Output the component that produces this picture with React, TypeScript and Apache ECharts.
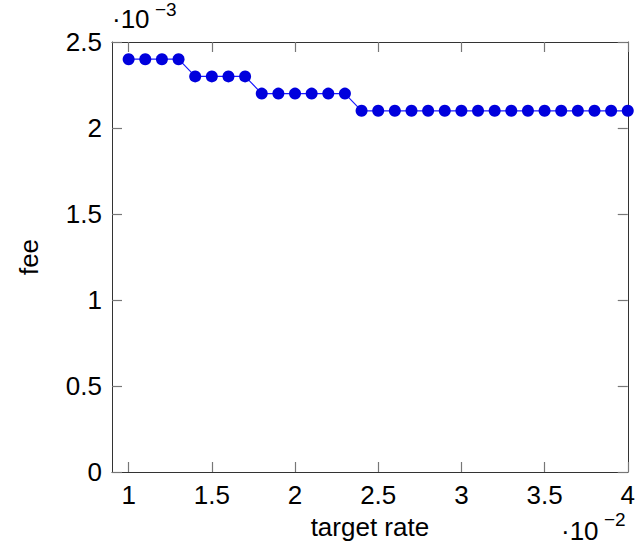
import React, { useEffect, useRef } from "react";
import * as echarts from "echarts";

// target rate, in units of 10^-2
const targetRate = [
  1.0, 1.1, 1.2, 1.3, 1.4, 1.5, 1.6, 1.7, 1.8, 1.9, 2.0, 2.1, 2.2, 2.3, 2.4, 2.5,
  2.6, 2.7, 2.8, 2.9, 3.0, 3.1, 3.2, 3.3, 3.4, 3.5, 3.6, 3.7, 3.8, 3.9, 4.0,
];
// fee, in units of 10^-3
const fee = [
  2.4, 2.4, 2.4, 2.4, 2.3, 2.3, 2.3, 2.3, 2.2, 2.2, 2.2, 2.2, 2.2, 2.2, 2.1, 2.1,
  2.1, 2.1, 2.1, 2.1, 2.1, 2.1, 2.1, 2.1, 2.1, 2.1, 2.1, 2.1, 2.1, 2.1, 2.1,
];
const xTicks = [1, 1.5, 2, 2.5, 3, 3.5, 4];
const yTicks = [0, 0.5, 1, 1.5, 2, 2.5];

const FONT = "Liberation Sans";

export default function App() {
  const ref = useRef<HTMLDivElement>(null);
  useEffect(() => {
    document.body.style.margin = "0";
    if (!ref.current) return;
    const chart = echarts.init(ref.current, null, { renderer: "svg" });
    const axisLine = { show: true, onZero: false, lineStyle: { color: "#333", width: 1 } };
    const tick = { show: true, inside: true, length: 10, lineStyle: { color: "#777", width: 1.2 } };
    const labelStyle = { color: "#000", fontFamily: FONT, fontSize: 26 };
    const hiddenLabel = { show: true, inside: true, color: "rgba(0,0,0,0)" };
    const points = targetRate.map((x, i) => [x, fee[i]]);
    chart.setOption({
      animation: false,
      grid: { left: 112, right: 8, top: 42, bottom: 74, containLabel: false },
      xAxis: [
        {
          type: "value",
          position: "bottom",
          min: 0.9,
          max: 4,
          axisLine,
          axisTick: { ...tick, customValues: xTicks },
          axisLabel: { ...labelStyle, margin: 10, customValues: xTicks, showMaxLabel: true, formatter: (v: number) => String(v) },
          splitLine: { show: false },
          name: "target rate",
          nameLocation: "middle",
          nameGap: 42,
          nameTextStyle: { ...labelStyle, fontSize: 26 },
        },
        {
          type: "value",
          position: "top",
          min: 0.9,
          max: 4,
          axisLine,
          axisTick: { ...tick, customValues: xTicks },
          axisLabel: { ...hiddenLabel, customValues: xTicks },
          splitLine: { show: false },
        },
      ],
      yAxis: [
        {
          type: "value",
          position: "left",
          min: 0,
          max: 2.5,
          interval: 0.5,
          axisLine,
          axisTick: { ...tick },
          axisLabel: { ...labelStyle, margin: 10 },
          splitLine: { show: false },
          name: "fee",
          nameLocation: "middle",
          nameGap: 70,
          nameTextStyle: { ...labelStyle, fontSize: 26 },
        },
        {
          type: "value",
          position: "right",
          min: 0,
          max: 2.5,
          interval: 0.5,
          axisLine,
          axisTick: { ...tick },
          axisLabel: { ...hiddenLabel },
          splitLine: { show: false },
        },
      ],
      series: [
        {
          type: "line",
          xAxisIndex: 1,
          yAxisIndex: 1,
          data: points,
          symbol: "none",
          lineStyle: { opacity: 0 },
          silent: true,
          z: 0,
        },
        {
          type: "line",
          xAxisIndex: 0,
          yAxisIndex: 0,
          data: points,
          symbol: "circle",
          symbolSize: 12,
          lineStyle: { color: "#1a1aff", width: 1.2 },
          itemStyle: { color: "#0000dd" },
          clip: false,
          z: 3,
        },
      ],
      graphic: [
        { type: "text", left: 112, top: 6, style: { text: "·10", font: `26px "${FONT}"`, fill: "#000" } },
        { type: "text", left: 155, top: 0, style: { text: "−3", font: `19px "${FONT}"`, fill: "#000" } },
        { type: "text", left: 561, top: 518, style: { text: "·10", font: `26px "${FONT}"`, fill: "#000" } },
        { type: "text", left: 604, top: 510, style: { text: "−2", font: `19px "${FONT}"`, fill: "#000" } },
      ],
    });
    return () => chart.dispose();
  }, []);
  return <div ref={ref} style={{ width: 638, height: 546 }} />;
}
